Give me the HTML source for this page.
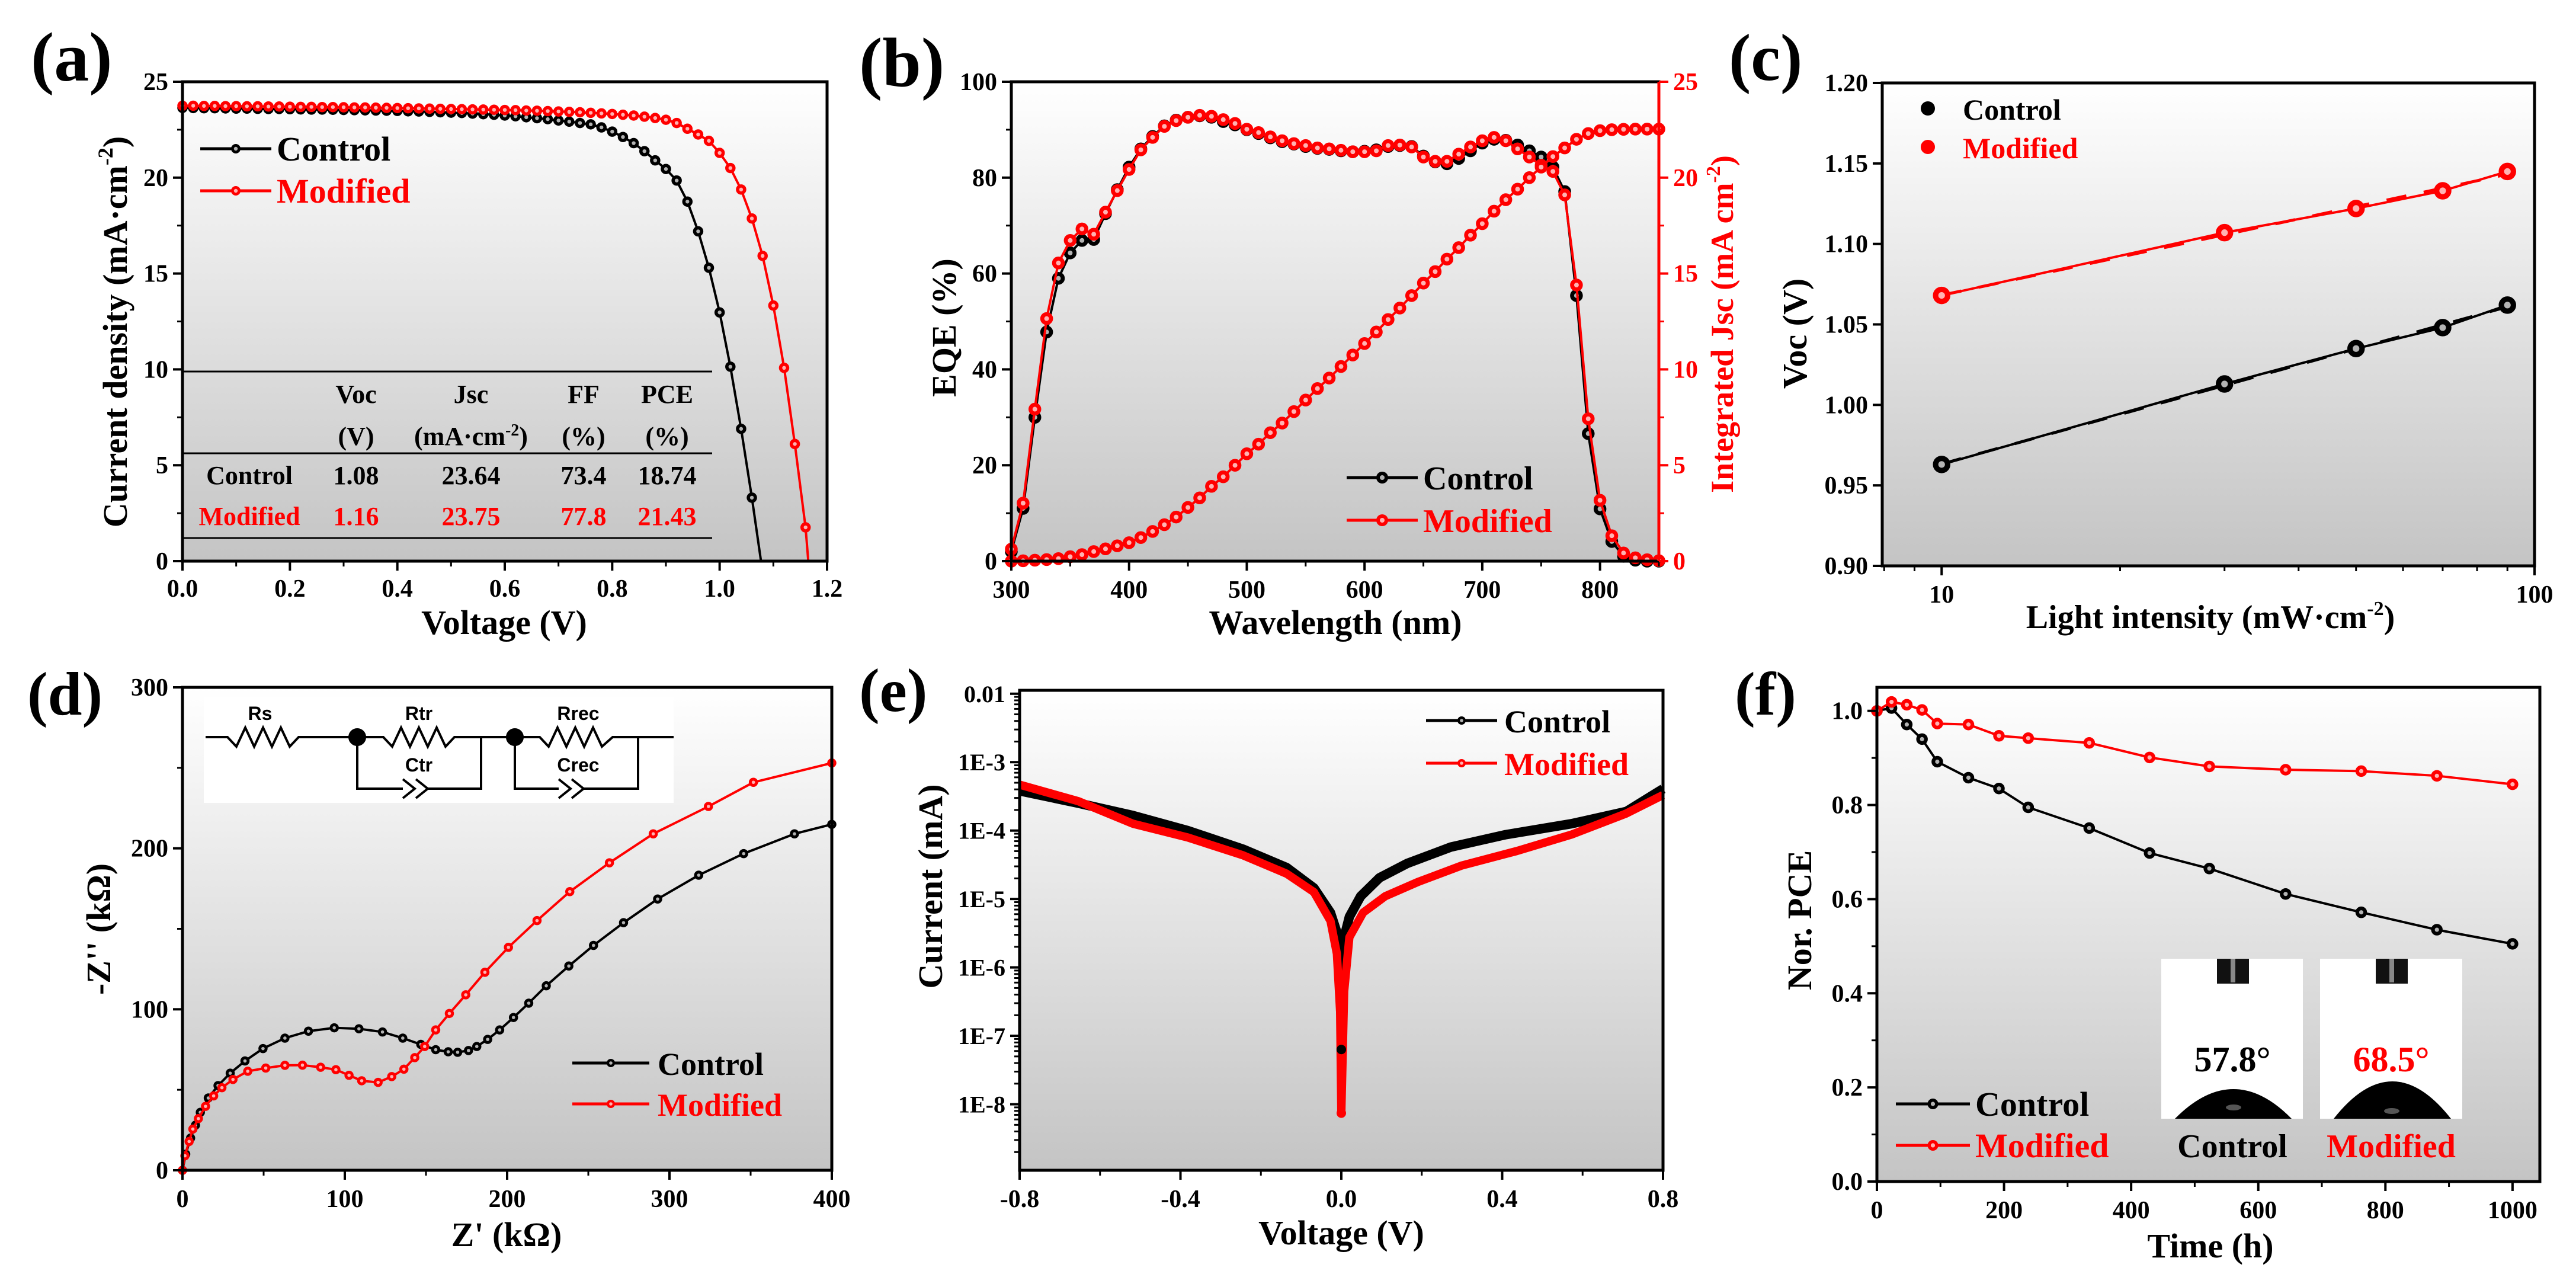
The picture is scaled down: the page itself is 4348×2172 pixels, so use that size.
<!DOCTYPE html>
<html><head><meta charset="utf-8"><title>Solar cell figure</title>
<style>
html,body{margin:0;padding:0;background:#fff;}
svg{display:block;}
svg text{font-family:"Liberation Serif","Times New Roman",serif !important;font-weight:bold;}
svg text.sans{font-family:"Liberation Sans","DejaVu Sans",sans-serif !important;}
</style></head>
<body>
<svg id="fig" xmlns="http://www.w3.org/2000/svg" width="4348" height="2172" viewBox="0 0 4348 2172" font-family="Liberation Serif, serif" font-weight="bold">
<defs>
<linearGradient id="bg" x1="0" y1="0" x2="0" y2="1">
<stop offset="0" stop-color="#ffffff"/><stop offset="1" stop-color="#c4c4c4"/>
</linearGradient>
</defs>
<rect x="0" y="0" width="4348" height="2172" fill="#fff"/>
<g id="layer-bg"></g>
<g id="layer-data"></g>
<g id="layer-axes"></g>

<text x="52" y="136" font-size="118">(a)</text>
<text x="1450" y="145" font-size="118">(b)</text>
<text x="2918" y="135" font-size="112">(c)</text>
<text x="46" y="1206" font-size="104">(d)</text>
<text x="1450" y="1200" font-size="104">(e)</text>
<text x="2928" y="1206" font-size="104">(f)</text>

<text x="851" y="1070" font-size="58" text-anchor="middle">Voltage (V)</text>
<text transform="translate(214,560) rotate(-90)" font-size="58" text-anchor="middle">Current density (mA·cm<tspan dy="-24" font-size="36">-2</tspan><tspan dy="24">)</tspan></text>
<text x="2254" y="1070" font-size="58" text-anchor="middle">Wavelength (nm)</text>
<text transform="translate(1613,553) rotate(-90)" font-size="58" text-anchor="middle">EQE (%)</text>
<text transform="translate(2925,547) rotate(-90)" font-size="54" text-anchor="middle" fill="#ff0000">Integrated Jsc (mA cm<tspan dy="-22" font-size="34">-2</tspan><tspan dy="22">)</tspan></text>
<text x="3731" y="1060" font-size="56" text-anchor="middle">Light intensity (mW·cm<tspan dy="-22" font-size="34">-2</tspan><tspan dy="22">)</tspan></text>
<text transform="translate(3049,563) rotate(-90)" font-size="58" text-anchor="middle">Voc (V)</text>
<text x="855" y="2103" font-size="58" text-anchor="middle">Z' (kΩ)</text>
<text transform="translate(186,1568) rotate(-90)" font-size="58" text-anchor="middle">-Z'' (kΩ)</text>
<text x="2264" y="2100" font-size="58" text-anchor="middle">Voltage (V)</text>
<text transform="translate(1590,1496) rotate(-90)" font-size="58" text-anchor="middle">Current (mA)</text>
<text x="3731" y="2122" font-size="58" text-anchor="middle">Time (h)</text>
<text transform="translate(3057,1553) rotate(-90)" font-size="58" text-anchor="middle">Nor. PCE</text>

<g font-size="44" text-anchor="middle">
<line x1="308" y1="627" x2="1202" y2="627" stroke="#000" stroke-width="3"/>
<line x1="308" y1="765" x2="1202" y2="765" stroke="#000" stroke-width="3"/>
<line x1="308" y1="908" x2="1202" y2="908" stroke="#000" stroke-width="3"/>
<text x="601" y="680">Voc</text>
<text x="795" y="680">Jsc</text>
<text x="985" y="680">FF</text>
<text x="1126" y="680">PCE</text>
<text x="601" y="751">(V)</text>
<text x="795" y="751">(mA·cm<tspan dy="-16" font-size="28">-2</tspan><tspan dy="16">)</tspan></text>
<text x="985" y="751">(%)</text>
<text x="1126" y="751">(%)</text>
<text x="421" y="817">Control</text>
<text x="601" y="817">1.08</text>
<text x="795" y="817">23.64</text>
<text x="985" y="817">73.4</text>
<text x="1126" y="817">18.74</text>
<g fill="#ff0000">
<text x="421" y="886">Modified</text>
<text x="601" y="886">1.16</text>
<text x="795" y="886">23.75</text>
<text x="985" y="886">77.8</text>
<text x="1126" y="886">21.43</text>
</g>
</g>

<g id="legends">
<text x="467" y="271" font-size="58">Control</text>
<text x="467" y="342" font-size="58" fill="#ff0000">Modified</text>
<text x="2402" y="826" font-size="56">Control</text>
<text x="2402" y="898" font-size="56" fill="#ff0000">Modified</text>
<text x="3313" y="202" font-size="50">Control</text>
<text x="3313" y="267" font-size="50" fill="#ff0000">Modified</text>
<text x="1110" y="1814" font-size="54">Control</text>
<text x="1110" y="1883" font-size="54" fill="#ff0000">Modified</text>
<text x="2539" y="1236" font-size="54">Control</text>
<text x="2539" y="1308" font-size="54" fill="#ff0000">Modified</text>
<text x="3334" y="1883" font-size="58">Control</text>
<text x="3334" y="1953" font-size="58" fill="#ff0000">Modified</text>
</g>

<g fill="none" stroke="#000" stroke-width="4">
<rect x="344" y="1177" width="793" height="178" fill="#fff" stroke="none"/>
<polyline points="347,1244 384,1244 399,1260 414,1228 429,1260 444,1228 459,1260 474,1228 489,1260 504,1244 647,1244 662,1260 677,1228 692,1260 707,1228 722,1260 737,1228 752,1260 767,1244 911,1244 926,1260 941,1228 956,1260 971,1228 986,1260 1001,1228 1016,1260 1034,1244 1137,1244"/>
<polyline points="603,1244 603,1331 680,1331"/>
<polyline points="680,1315 700,1331 680,1347"/>
<polyline points="702,1315 722,1331 702,1347"/>
<polyline points="722,1331 812,1331 812,1244"/>
<polyline points="869,1244 869,1331 943,1331"/>
<polyline points="943,1315 963,1331 943,1347"/>
<polyline points="965,1315 985,1331 965,1347"/>
<polyline points="985,1331 1077,1331 1077,1244"/>
<circle cx="603" cy="1244" r="13" fill="#000"/>
<circle cx="869" cy="1244" r="13" fill="#000"/>
<g stroke="none" fill="#000" font-size="32" text-anchor="middle">
<text class="sans" x="439" y="1215">Rs</text>
<text class="sans" x="707" y="1215">Rtr</text>
<text class="sans" x="976" y="1215">Rrec</text>
<text class="sans" x="707" y="1302">Ctr</text>
<text class="sans" x="976" y="1302">Crec</text>
</g>
</g>

<g>
<rect x="3648" y="1618" width="239" height="270" fill="#fff"/>
<rect x="3916" y="1618" width="240" height="270" fill="#fff"/>
<rect x="3742" y="1618" width="54" height="42" fill="#111"/>
<rect x="3765" y="1618" width="8" height="40" fill="#888"/>
<rect x="4010" y="1618" width="54" height="42" fill="#111"/>
<rect x="4033" y="1618" width="8" height="40" fill="#888"/>
<path d="M3671,1888 Q3770,1788 3868,1888 Z" fill="#000"/>
<path d="M3939,1888 Q4038,1762 4137,1888 Z" fill="#000"/>
<ellipse cx="3770" cy="1869" rx="13" ry="5" fill="#555"/>
<ellipse cx="4037" cy="1875" rx="13" ry="5" fill="#555"/>
<text x="3768" y="1808" font-size="60" text-anchor="middle">57.8°</text>
<text x="4036" y="1808" font-size="60" text-anchor="middle" fill="#ff0000">68.5°</text>
<text x="3768" y="1953" font-size="56" text-anchor="middle">Control</text>
<text x="4036" y="1953" font-size="56" text-anchor="middle" fill="#ff0000">Modified</text>
</g>
</svg>

<script>
const aCtrlV = [0,0.02,0.04,0.06,0.08,0.10,0.12,0.14,0.16,0.18,0.20,0.22,0.24,0.26,0.28,0.30,0.32,0.34,0.36,0.38,0.40,0.42,0.44,0.46,0.48,0.50,0.52,0.54,0.56,0.58,0.60,0.62,0.64,0.66,0.68,0.70,0.72,0.74,0.76,0.78,0.80,0.82,0.84,0.86,0.88,0.90,0.92,0.94,0.96,0.98,1.00,1.02,1.04,1.06,1.077];
const aCtrlJ = [23.64,23.63,23.62,23.62,23.61,23.60,23.60,23.59,23.58,23.58,23.57,23.56,23.55,23.55,23.54,23.53,23.52,23.51,23.50,23.49,23.48,23.46,23.45,23.43,23.41,23.39,23.37,23.34,23.31,23.28,23.24,23.20,23.15,23.10,23.05,22.98,22.92,22.85,22.78,22.62,22.40,22.12,21.80,21.38,20.90,20.45,19.85,18.75,17.20,15.30,12.97,10.14,6.90,3.31,0];
const aModV = [0,0.02,0.04,0.06,0.08,0.10,0.12,0.14,0.16,0.18,0.20,0.22,0.24,0.26,0.28,0.30,0.32,0.34,0.36,0.38,0.40,0.42,0.44,0.46,0.48,0.50,0.52,0.54,0.56,0.58,0.60,0.62,0.64,0.66,0.68,0.70,0.72,0.74,0.76,0.78,0.80,0.82,0.84,0.86,0.88,0.90,0.92,0.94,0.96,0.98,1.00,1.02,1.04,1.06,1.08,1.10,1.12,1.14,1.16,1.165];
const aModJ = [23.75,23.75,23.74,23.74,23.73,23.73,23.72,23.72,23.71,23.71,23.70,23.69,23.69,23.68,23.68,23.67,23.66,23.66,23.65,23.64,23.63,23.62,23.61,23.60,23.59,23.58,23.57,23.56,23.55,23.54,23.53,23.52,23.50,23.49,23.47,23.45,23.43,23.41,23.38,23.35,23.32,23.28,23.24,23.18,23.11,23.02,22.85,22.55,22.25,21.92,21.29,20.50,19.38,17.87,15.92,13.33,10.08,6.11,1.76,0];
const aXTicks = [0,0.2,0.4,0.6,0.8,1.0,1.2];
const aXTickLabels = ['0.0','0.2','0.4','0.6','0.8','1.0','1.2'];
const aXMinor = [0.1,0.3,0.5,0.7,0.9,1.1];
const aYTicks = [0,5,10,15,20,25];
const aYTickLabels = ['0','5','10','15','20','25'];
const aYMinor = [2.5,7.5,12.5,17.5,22.5];

const bWl = [300,310,320,330,340,350,360,370,380,390,400,410,420,430,440,450,460,470,480,490,500,510,520,530,540,550,560,570,580,590,600,610,620,630,640,650,660,670,680,690,700,710,720,730,740,750,760,770,780,790,800,810,820,830,840,850];
const bCtrlEqe = [2.0,11.0,30.0,47.8,59.0,64.3,66.9,67.1,72.5,77.5,82.2,86.0,88.6,90.8,92.0,92.6,92.9,92.6,91.7,91.0,90.0,89.2,88.3,87.5,87.0,86.5,86.1,85.9,85.6,85.4,85.5,85.8,86.5,86.7,86.5,84.5,83.3,82.9,84.0,85.6,87.2,88.0,87.8,86.8,85.6,84.3,82.2,77.1,55.4,26.6,10.9,4.1,1.0,0.2,0,0];
const bModEqe = [2.5,12.1,31.7,50.6,62.2,66.9,69.3,68.2,72.8,77.3,81.7,85.8,88.4,90.7,91.9,92.6,93.0,92.8,92.1,91.3,90.1,89.4,88.5,87.7,87.1,86.7,86.2,86.0,85.7,85.4,85.4,85.6,86.7,86.8,86.4,84.3,83.4,83.4,84.9,86.4,87.7,88.4,87.7,86.0,84.3,82.6,81.3,76.4,57.6,29.7,12.7,5.3,1.7,0.7,0.3,0.1];
const bModJsc = [0,0.02,0.05,0.08,0.13,0.23,0.34,0.50,0.64,0.80,0.96,1.23,1.55,1.90,2.30,2.80,3.30,3.90,4.40,5.00,5.60,6.10,6.70,7.20,7.80,8.40,9.00,9.55,10.15,10.75,11.35,11.95,12.60,13.20,13.85,14.50,15.10,15.75,16.35,17.00,17.60,18.25,18.85,19.40,20.00,20.55,21.10,21.55,22.00,22.30,22.45,22.50,22.52,22.53,22.53,22.53];
const bXTicks = [300,400,500,600,700,800];
const bXTickLabels = ['300','400','500','600','700','800'];
const bXMinor = [350,450,550,650,750,850];
const bYTicks = [0,20,40,60,80,100];
const bYTickLabels = ['0','20','40','60','80','100'];
const bYMinor = [10,30,50,70,90];
const bY2Ticks = [0,5,10,15,20,25];
const bY2TickLabels = ['0','5','10','15','20','25'];
const bY2Minor = [2.5,7.5,12.5,17.5,22.5];

const cIntensity = [10,30,50,70,90];
const cCtrlVoc = [0.963,1.013,1.035,1.048,1.062];
const cModVoc = [1.068,1.107,1.122,1.133,1.145];
const cXTicks = [10,100];
const cXTickLabels = ['10','100'];
const cXMinor = [8,9,20,30,40,50,60,70,80,90];
const cYTicks = [0.90,0.95,1.00,1.05,1.10,1.15,1.20];
const cYTickLabels = ['0.90','0.95','1.00','1.05','1.10','1.15','1.20'];

const dCtrlZr = [0,2,5,8,11,15.9,21.9,29.4,38.5,49.6,63.1,77.6,93.5,108.7,123.2,135.7,146.8,156,163.7,169.5,176.2,181.3,188,195.4,203.9,213.3,224.1,238,253.2,271.7,292.7,318,345.7,377,400];
const dCtrlZi = [0,10,20,28,36,44.9,52.6,60.3,67.9,75.6,82.1,86.4,88.5,87.9,85.9,82.1,78.2,74.9,73.6,73.3,74.4,76.9,81.3,87.2,94.9,103.8,114.6,126.9,139.7,153.8,168.5,183.3,196.7,209,214.9];
const dModZr = [0,1.5,4.1,6.4,9.8,14.2,19.2,24.3,31.1,40.2,51.3,63.1,73.9,85.1,94.5,102.6,110.4,120.5,128.9,136.4,143.1,149.2,156,164.4,174.5,186.3,200.8,218.4,238.6,263,290,324,351.7,400];
const dModZi = [0,9,17.9,25.6,32.1,39.7,46.2,51.3,56.4,61.5,63.5,65.2,65.3,64.0,62.5,59,55.6,54.6,58.2,62.8,70,76.9,87.2,97.4,109,123,138.5,155.1,173.1,191,209,226,241,253];
const dXTicks = [0,100,200,300,400];
const dXTickLabels = ['0','100','200','300','400'];
const dXMinor = [50,150,250,350];
const dYTicks = [0,100,200,300];
const dYTickLabels = ['0','100','200','300'];
const dYMinor = [50,150,250];

const eCtrlV = [-0.8,-0.654,-0.518,-0.382,-0.245,-0.136,-0.068,-0.027,-0.007,0.0,0.0,0.0,0.007,0.020,0.048,0.095,0.164,0.273,0.409,0.572,0.709,0.8];
const eCtrlLogI = [-3.42,-3.60,-3.78,-4.00,-4.27,-4.54,-4.84,-5.20,-5.56,-6.05,-7.2,-6.05,-5.56,-5.26,-4.96,-4.69,-4.48,-4.24,-4.06,-3.90,-3.72,-3.39];
const eModV = [-0.8,-0.654,-0.518,-0.382,-0.245,-0.136,-0.068,-0.027,-0.011,-0.003,0.0,0.007,0.020,0.054,0.109,0.191,0.300,0.436,0.572,0.709,0.8];
const eModLogI = [-3.33,-3.57,-3.90,-4.10,-4.36,-4.63,-4.90,-5.32,-5.80,-6.65,-8.13,-6.35,-5.56,-5.20,-4.96,-4.75,-4.51,-4.30,-4.06,-3.75,-3.48];
const eXTicks = [-0.8,-0.4,0.0,0.4,0.8];
const eXTickLabels = ['-0.8','-0.4','0.0','0.4','0.8'];
const eXMinor = [-0.6,-0.2,0.2,0.6];
const eYTicks = [-2,-3,-4,-5,-6,-7,-8];
const eYTickLabels = ['0.01','1E-3','1E-4','1E-5','1E-6','1E-7','1E-8'];

const fTime = [0,23,47,71,95,144,192,238,334,429,523,643,762,881,1000];
const fCtrlPce = [1.0,1.006,0.971,0.94,0.892,0.858,0.835,0.795,0.751,0.698,0.665,0.611,0.572,0.535,0.505];
const fModPce = [1.0,1.019,1.013,1.002,0.973,0.971,0.947,0.942,0.932,0.901,0.882,0.875,0.872,0.862,0.844];
const fXTicks = [0,200,400,600,800,1000];
const fXTickLabels = ['0','200','400','600','800','1000'];
const fXMinor = [100,300,500,700,900];
const fYTicks = [0,0.2,0.4,0.6,0.8,1.0];
const fYTickLabels = ['0.0','0.2','0.4','0.6','0.8','1.0'];
const fYMinor = [0.1,0.3,0.5,0.7,0.9];

const NS = 'http://www.w3.org/2000/svg';
const LB = document.getElementById('layer-bg');
const LD = document.getElementById('layer-data');
const LA = document.getElementById('layer-axes');
function mk(tag, attrs, parent){ const e=document.createElementNS(NS,tag); for(const k in attrs) e.setAttribute(k,attrs[k]); parent.appendChild(e); return e; }
function lin(d0,d1,p0,p1){ return v => p0 + (v-d0)/(d1-d0)*(p1-p0); }
function logs(d0,d1,p0,p1){ const a=Math.log10(d0), b=Math.log10(d1); return v => p0 + (Math.log10(v)-a)/(b-a)*(p1-p0); }

function plotArea(P, prefix){
  const r = mk('rect',{x:P.L,y:P.T,width:P.R-P.L,height:P.B-P.T,fill:'url(#bg)'},LB);
  
  
  const f = mk('rect',{x:P.L,y:P.T,width:P.R-P.L,height:P.B-P.T,fill:'none',stroke:'#000','stroke-width':5},LA);
  
  
}
function xAxis(P, sx, majors, labels, minors, prefix, ly, fs){
  majors.forEach((v,i)=>{
    const x = sx(v);
    const t = mk('line',{x1:x,y1:P.B,x2:x,y2:P.B+16,stroke:'#000','stroke-width':4},LA);
    
    
    const s = mk('text',{x:x,y:P.B+ly,'font-size':fs||42,'text-anchor':'middle'},LA);
    s.textContent = labels[i];
    
    
  });
  minors.forEach(v=>{
    const x = sx(v);
    const t = mk('line',{x1:x,y1:P.B,x2:x,y2:P.B+9,stroke:'#000','stroke-width':3},LA);
    
    
  });
}
function yAxis(P, sy, majors, labels, minors, prefix, right, color, fs){
  const c = color||'#000';
  const x0 = right ? P.R : P.L;
  const dir = right ? 1 : -1;
  majors.forEach((v,i)=>{
    const y = sy(v);
    const t = mk('line',{x1:x0,y1:y,x2:x0+dir*16,y2:y,stroke:c,'stroke-width':4},LA);
    
    
    const s = mk('text',{x:x0+dir*24,y:y+14,'font-size':fs||42,'text-anchor':right?'start':'end',fill:c},LA);
    s.textContent = labels[i];
    
    
  });
  minors.forEach(v=>{
    const y = sy(v);
    const t = mk('line',{x1:x0,y1:y,x2:x0+dir*9,y2:y,stroke:c,'stroke-width':3},LA);
    
    
  });
}
function series(xs, ys, sx, sy, color, r, prefix, skipZero, width){
  const pts = xs.map((x,i)=>sx(x).toFixed(1)+','+sy(ys[i]).toFixed(1)).join(' ');
  const pl = mk('polyline',{points:pts,fill:'none',stroke:color,'stroke-width':width||4,'stroke-linejoin':'round'},LD);
  
  
  if(r>0){
    xs.forEach((x,i)=>{
      if(skipZero && ys[i]===0) return;
      const cx = sx(x), cy = sy(ys[i]);
      const m = mk('circle',{cx:cx,cy:cy,r:r,fill:color,stroke:color,'stroke-width':1.5},LD);
      
      
      const h = mk('circle',{cx:cx,cy:cy,r:r*0.4,fill:'#fff','fill-opacity':0.7},LD);
      
      
    });
  }
}
function legendLine(x1,x2,y,color,r,prefix){
  const l = mk('line',{x1:x1,y1:y,x2:x2,y2:y,stroke:color,'stroke-width':5},LA);
  
  
  const m = mk('circle',{cx:(x1+x2)/2,cy:y,r:r,fill:color},LA);
  
  
  const h = mk('circle',{cx:(x1+x2)/2,cy:y,r:r*0.4,fill:'#fff','fill-opacity':0.7},LA);
  
  
}

const PA = {L:308,R:1396,T:138,B:947};
const axA = lin(0,1.2,PA.L,PA.R), ayA = lin(0,25,PA.B,PA.T);
plotArea(PA,'a');
series(aCtrlV,aCtrlJ,axA,ayA,'#000',8,'a-control',true);
series(aModV,aModJ,axA,ayA,'#ff0000',8,'a-modified',true);
xAxis(PA,axA,aXTicks,aXTickLabels,aXMinor,'a',60);
yAxis(PA,ayA,aYTicks,aYTickLabels,aYMinor,'a');
legendLine(338,458,251,'#000',8,'a-control');
legendLine(338,458,322,'#ff0000',8,'a-modified');

const PB = {L:1707,R:2800,T:138,B:947};
const axB = lin(300,850,PB.L,PB.R), ayB = lin(0,100,PB.B,PB.T), ay2B = lin(0,25,PB.B,PB.T);
plotArea(PB,'b');
series(bWl,bCtrlEqe,axB,ayB,'#000',10,'b-control-eqe');
series(bWl,bModEqe,axB,ayB,'#ff0000',10,'b-modified-eqe');
series(bWl,bModJsc,axB,ay2B,'#ff0000',10,'b-integrated-jsc');
xAxis(PB,axB,bXTicks,bXTickLabels,bXMinor,'b',62);
yAxis(PB,ayB,bYTicks,bYTickLabels,bYMinor,'b');
yAxis(PB,ay2B,bY2Ticks,bY2TickLabels,bY2Minor,'b-right',true,'#ff0000');
const bRight = mk('line',{x1:PB.R,y1:PB.T,x2:PB.R,y2:PB.B,stroke:'#ff0000','stroke-width':5},LA);


legendLine(2273,2393,806,'#000',10,'b-control');
legendLine(2273,2393,878,'#ff0000',10,'b-modified');

const PC = {L:3177,R:4278,T:140,B:955};
const axC = logs(7.94,100,PC.L,PC.R), ayC = lin(0.90,1.20,PC.B,PC.T);
plotArea(PC,'c');
function fitLine(xs, ys, color, prefix){
  const lx = xs.map(v=>Math.log10(v));
  const n = lx.length, mx = lx.reduce((a,b)=>a+b)/n, my = ys.reduce((a,b)=>a+b)/n;
  let num=0, den=0; lx.forEach((v,i)=>{num+=(v-mx)*(ys[i]-my); den+=(v-mx)*(v-mx);});
  const k = num/den, b0 = my-k*mx;
  const x1 = xs[0], x2 = xs[n-1];
  const l = mk('line',{x1:axC(x1),y1:ayC(k*Math.log10(x1)+b0),x2:axC(x2),y2:ayC(k*Math.log10(x2)+b0),stroke:color,'stroke-width':5,'stroke-dasharray':'34,30'},LD);
  
  
}
fitLine(cIntensity,cCtrlVoc,'#000','c-control');
fitLine(cIntensity,cModVoc,'#ff0000','c-modified');
series(cIntensity,cCtrlVoc,axC,ayC,'#000',14,'c-control',false,0);
series(cIntensity,cModVoc,axC,ayC,'#ff0000',14,'c-modified',false,0);
xAxis(PC,axC,cXTicks,cXTickLabels,cXMinor,'c',62);
yAxis(PC,ayC,cYTicks,cYTickLabels,[],'c');
(function(){
  const m1 = mk('circle',{cx:3254,cy:183,r:12,fill:'#000'},LA);
  
  
  const m2 = mk('circle',{cx:3254,cy:248,r:12,fill:'#ff0000'},LA);
  
  
})();

const PD = {L:308,R:1404,T:1160,B:1975};
const axD = lin(0,400,PD.L,PD.R), ayD = lin(0,300,PD.B,PD.T);
plotArea(PD,'d');
series(dCtrlZr,dCtrlZi,axD,ayD,'#000',7,'d-control');
series(dModZr,dModZi,axD,ayD,'#ff0000',7,'d-modified');
xAxis(PD,axD,dXTicks,dXTickLabels,dXMinor,'d',62);
yAxis(PD,ayD,dYTicks,dYTickLabels,dYMinor,'d');
legendLine(966,1096,1794,'#000',7,'d-control');
legendLine(966,1096,1863,'#ff0000',7,'d-modified');

const PE = {L:1721,R:2807,T:1165,B:1975};
const axE = lin(-0.8,0.8,PE.L,PE.R), ayE = lin(-8.965,-1.95,PE.B,PE.T);
plotArea(PE,'e');
series(eCtrlV,eCtrlLogI,axE,ayE,'#000',0,'e-control',false,16);
series(eModV,eModLogI,axE,ayE,'#ff0000',0,'e-modified',false,14);
(function(){
  const mc = mk('circle',{cx:axE(eCtrlV[10]),cy:ayE(eCtrlLogI[10]),r:8,fill:'#000'},LD);
  
  
  const mm = mk('circle',{cx:axE(eModV[10]),cy:ayE(eModLogI[10]),r:8,fill:'#ff0000'},LD);
  
  
})();
const eMinor = [];
for(let d=-9; d<-2; d++){ for(let k=2;k<10;k++){ const v=d+Math.log10(k); if(v>-8.965 && v<-1.95) eMinor.push(v);} }
xAxis(PE,axE,eXTicks,eXTickLabels,eXMinor,'e',62);
yAxis(PE,ayE,eYTicks,eYTickLabels,eMinor,'e',false,'#000',40);
legendLine(2407,2527,1216,'#000',7,'e-control');
legendLine(2407,2527,1288,'#ff0000',7,'e-modified');

const PF = {L:3168,R:4287,T:1160,B:1994};
const axF = lin(0,1043,PF.L,PF.R), ayF = lin(0,1.05,PF.B,PF.T);
plotArea(PF,'f');
series(fTime,fCtrlPce,axF,ayF,'#000',9,'f-control');
series(fTime,fModPce,axF,ayF,'#ff0000',9,'f-modified');
xAxis(PF,axF,fXTicks,fXTickLabels,fXMinor,'f',62);
yAxis(PF,ayF,fYTicks,fYTickLabels,fYMinor,'f');
legendLine(3200,3325,1863,'#000',9,'f-control');
legendLine(3200,3325,1933,'#ff0000',9,'f-modified');
</script>
</body></html>
